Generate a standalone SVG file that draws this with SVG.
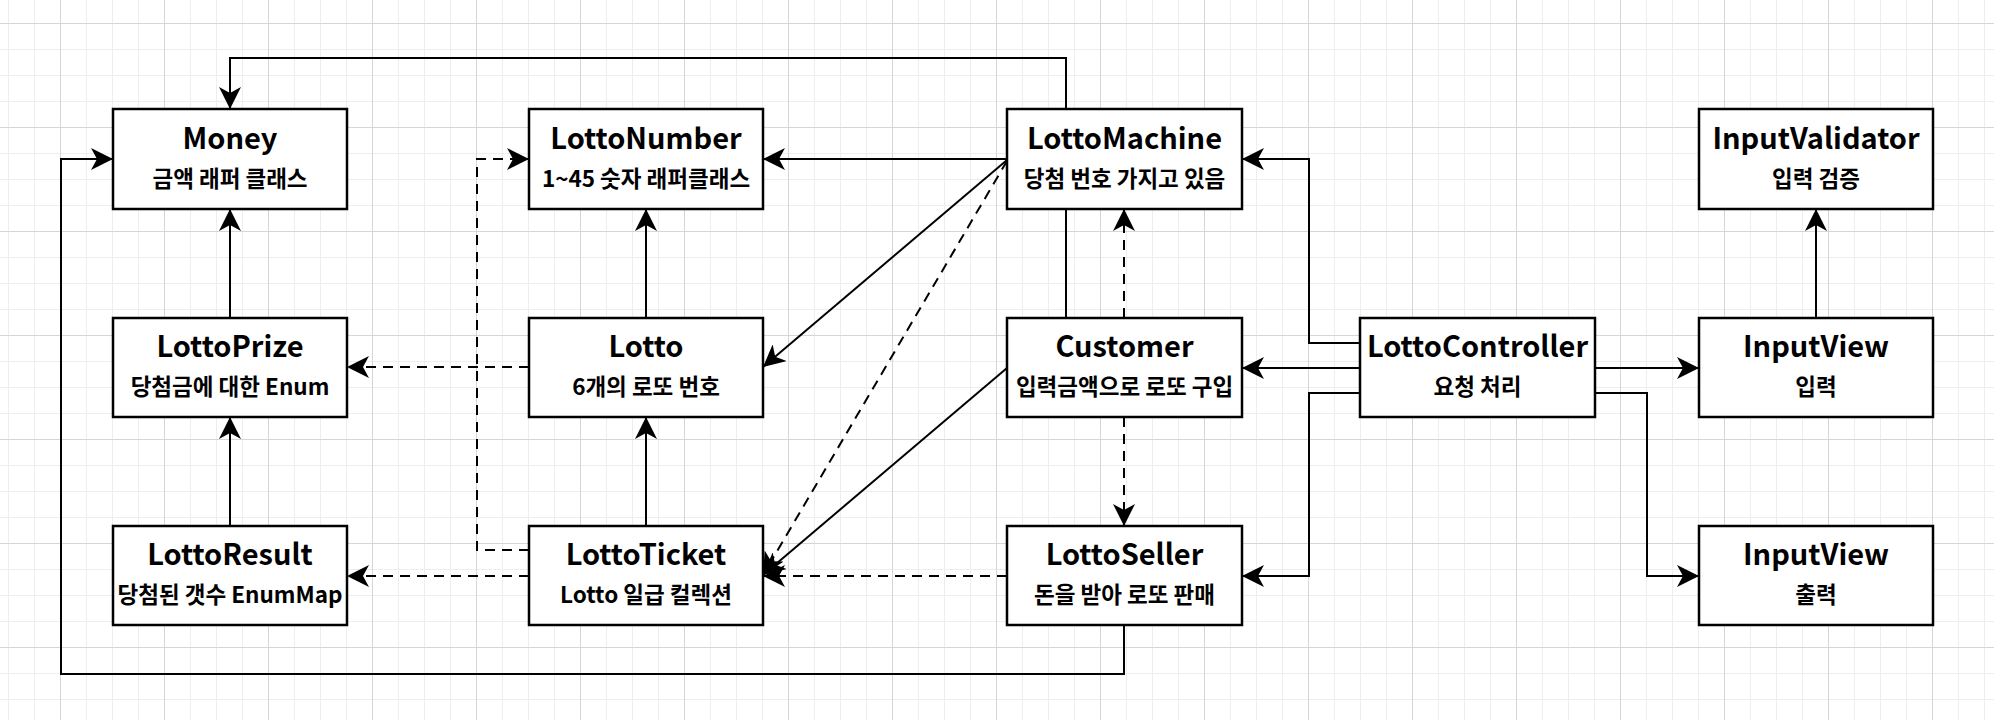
<svg xmlns="http://www.w3.org/2000/svg" width="1994" height="720" viewBox="0 0 1994 720">
<style>
.box{fill:#ffffff;stroke:#000000;stroke-width:2.5}
.t{font-family:"Noto Sans CJK KR","Noto Sans",sans-serif;font-weight:700;fill:#000000;text-anchor:middle}
.title{font-size:29px}
.sub{font-size:22.5px}
.ln{fill:none;stroke:#000000;stroke-width:2}
.dash{stroke-dasharray:10 7}
</style>
<defs>
<pattern id="grid" patternUnits="userSpaceOnUse" x="60" y="23" width="104" height="104">
<rect width="104" height="104" fill="#ffffff"/>
<path d="M26.5,0V104M52.5,0V104M78.5,0V104M0,26.5H104M0,52.5H104M0,78.5H104" stroke="#eeeeee" stroke-width="1" fill="none"/>
<path d="M0.5,0V104M0,0.5H104" stroke="#d6d6d6" stroke-width="1" fill="none"/>
</pattern>
<marker id="arr" viewBox="0 0 22 22" refX="22" refY="11" markerWidth="22" markerHeight="22" markerUnits="userSpaceOnUse" orient="auto">
<path d="M22,11L0,0L6,11L0,22Z" fill="#000000"/>
</marker>
</defs>
<rect width="1994" height="720" fill="url(#grid)"/>
<g id="connectors">
<path class="ln" d="M1066,318V58H230V109" marker-end="url(#arr)"/>
<path class="ln" d="M1124,625V674H61V159H113" marker-end="url(#arr)"/>
<path class="ln" d="M1007,159H763" marker-end="url(#arr)"/>
<path class="ln" d="M1007,160L763,367" marker-end="url(#arr)"/>
<path class="ln dash" d="M1007,161L763,575" marker-end="url(#arr)"/>
<path class="ln" d="M1007,368L763,575" marker-end="url(#arr)"/>
<path class="ln dash" d="M1007,576H763" marker-end="url(#arr)"/>
<path class="ln dash" d="M1124,318V209" marker-end="url(#arr)"/>
<path class="ln dash" d="M1124,417V526" marker-end="url(#arr)"/>
<path class="ln" d="M1360,343H1309V159H1242" marker-end="url(#arr)"/>
<path class="ln" d="M1360,368H1242" marker-end="url(#arr)"/>
<path class="ln" d="M1360,393H1309V576H1242" marker-end="url(#arr)"/>
<path class="ln" d="M1595,368H1699" marker-end="url(#arr)"/>
<path class="ln" d="M1595,393H1647V576H1699" marker-end="url(#arr)"/>
<path class="ln" d="M1816,318V209" marker-end="url(#arr)"/>
<path class="ln dash" d="M529,550H477V159H529" marker-end="url(#arr)"/>
<path class="ln dash" d="M529,576H347" marker-end="url(#arr)"/>
<path class="ln dash" d="M529,367H347" marker-end="url(#arr)"/>
<path class="ln" d="M646,318V209" marker-end="url(#arr)"/>
<path class="ln" d="M646,526V417" marker-end="url(#arr)"/>
<path class="ln" d="M230,318V209" marker-end="url(#arr)"/>
<path class="ln" d="M230,526V417" marker-end="url(#arr)"/>
</g>
<g id="money"><rect class="box" x="113" y="109" width="234" height="100"/><text class="t title" x="230" y="149">Money</text><text class="t sub" x="230" y="187">금액 래퍼 클래스</text></g>
<g id="lottonumber"><rect class="box" x="529" y="109" width="234" height="100"/><text class="t title" x="646" y="149">LottoNumber</text><text class="t sub" x="646" y="187">1~45 숫자 래퍼클래스</text></g>
<g id="lottomachine"><rect class="box" x="1007" y="109" width="235" height="100"/><text class="t title" x="1124.5" y="149">LottoMachine</text><text class="t sub" x="1124.5" y="187">당첨 번호 가지고 있음</text></g>
<g id="inputvalidator"><rect class="box" x="1699" y="109" width="234" height="100"/><text class="t title" x="1816" y="149">InputValidator</text><text class="t sub" x="1816" y="187">입력 검증</text></g>
<g id="lottoprize"><rect class="box" x="113" y="318" width="234" height="99"/><text class="t title" x="230" y="357">LottoPrize</text><text class="t sub" x="230" y="395">당첨금에 대한 Enum</text></g>
<g id="lotto"><rect class="box" x="529" y="318" width="234" height="99"/><text class="t title" x="646" y="357">Lotto</text><text class="t sub" x="646" y="395">6개의 로또 번호</text></g>
<g id="customer"><rect class="box" x="1007" y="318" width="235" height="99"/><text class="t title" x="1124.5" y="357">Customer</text><text class="t sub" x="1124.5" y="395">입력금액으로 로또 구입</text></g>
<g id="lottocontroller"><rect class="box" x="1360" y="318" width="235" height="99"/><text class="t title" x="1477.5" y="357">LottoController</text><text class="t sub" x="1477.5" y="395">요청 처리</text></g>
<g id="inputview"><rect class="box" x="1699" y="318" width="234" height="99"/><text class="t title" x="1816" y="357">InputView</text><text class="t sub" x="1816" y="395">입력</text></g>
<g id="lottoresult"><rect class="box" x="113" y="526" width="234" height="99"/><text class="t title" x="230" y="565">LottoResult</text><text class="t sub" x="230" y="603">당첨된 갯수 EnumMap</text></g>
<g id="lottoticket"><rect class="box" x="529" y="526" width="234" height="99"/><text class="t title" x="646" y="565">LottoTicket</text><text class="t sub" x="646" y="603">Lotto 일급 컬렉션</text></g>
<g id="lottoseller"><rect class="box" x="1007" y="526" width="235" height="99"/><text class="t title" x="1124.5" y="565">LottoSeller</text><text class="t sub" x="1124.5" y="603">돈을 받아 로또 판매</text></g>
<g id="outputview"><rect class="box" x="1699" y="526" width="234" height="99"/><text class="t title" x="1816" y="565">InputView</text><text class="t sub" x="1816" y="603">출력</text></g>
</svg>
